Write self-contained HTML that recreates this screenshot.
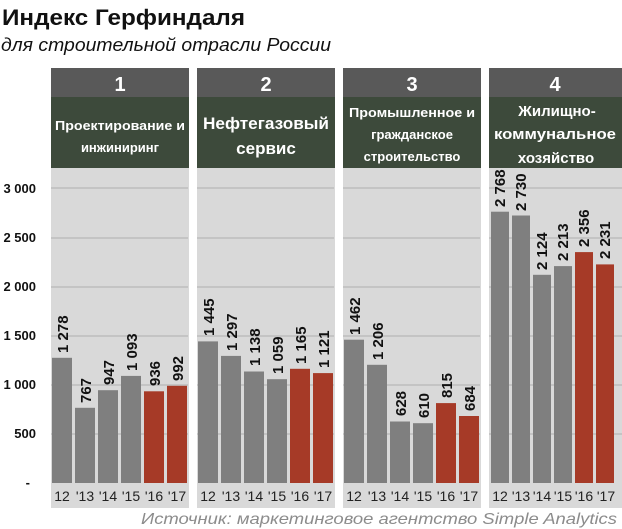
<!DOCTYPE html>
<html><head><meta charset="utf-8"><style>
html,body{margin:0;padding:0;background:#fff;}
svg{display:block;font-family:"Liberation Sans","DejaVu Sans",sans-serif;}
</style></head><body>
<svg width="622" height="529" viewBox="0 0 622 529" xmlns="http://www.w3.org/2000/svg">
<text x="2" y="25" font-size="22" font-weight="bold" fill="#111" textLength="243" lengthAdjust="spacingAndGlyphs">Индекс Герфиндаля</text>
<text x="1" y="51" font-size="18" font-style="italic" fill="#111" textLength="330" lengthAdjust="spacingAndGlyphs">для строительной отрасли России</text>

<g font-size="13" font-weight="bold" fill="#111" text-anchor="end">
<text x="36" y="193">3 000</text>
<text x="36" y="242">2 500</text>
<text x="36" y="291">2 000</text>
<text x="36" y="340">1 500</text>
<text x="36" y="389">1 000</text>
<text x="36" y="438">500</text>
<text x="30" y="487">-</text>
</g>

<rect x="51" y="68" width="138" height="29" fill="#595959"/>
<rect x="51" y="97" width="138" height="71" fill="#3d4a3b"/>
<rect x="51" y="168" width="138" height="340" fill="#d9d9d9"/>
<rect x="197" y="68" width="138" height="29" fill="#595959"/>
<rect x="197" y="97" width="138" height="71" fill="#3d4a3b"/>
<rect x="197" y="168" width="138" height="340" fill="#d9d9d9"/>
<rect x="343" y="68" width="138" height="29" fill="#595959"/>
<rect x="343" y="97" width="138" height="71" fill="#3d4a3b"/>
<rect x="343" y="168" width="138" height="340" fill="#d9d9d9"/>
<rect x="489" y="68" width="133" height="29" fill="#595959"/>
<rect x="489" y="97" width="133" height="71" fill="#3d4a3b"/>
<rect x="489" y="168" width="133" height="340" fill="#d9d9d9"/>

<g stroke="#bdbdbd" stroke-width="1.5">
<line x1="51" x2="188" y1="188" y2="188"/><line x1="51" x2="188" y1="238" y2="238"/><line x1="51" x2="188" y1="287" y2="287"/><line x1="51" x2="188" y1="336" y2="336"/><line x1="51" x2="188" y1="385" y2="385"/><line x1="51" x2="188" y1="434" y2="434"/>
<line x1="197" x2="334" y1="188" y2="188"/><line x1="197" x2="334" y1="238" y2="238"/><line x1="197" x2="334" y1="287" y2="287"/><line x1="197" x2="334" y1="336" y2="336"/><line x1="197" x2="334" y1="385" y2="385"/><line x1="197" x2="334" y1="434" y2="434"/>
<line x1="343" x2="480" y1="188" y2="188"/><line x1="343" x2="480" y1="238" y2="238"/><line x1="343" x2="480" y1="287" y2="287"/><line x1="343" x2="480" y1="336" y2="336"/><line x1="343" x2="480" y1="385" y2="385"/><line x1="343" x2="480" y1="434" y2="434"/>
<line x1="489" x2="622" y1="188" y2="188"/><line x1="489" x2="622" y1="238" y2="238"/><line x1="489" x2="622" y1="287" y2="287"/><line x1="489" x2="622" y1="336" y2="336"/><line x1="489" x2="622" y1="385" y2="385"/><line x1="489" x2="622" y1="434" y2="434"/>
</g>

<g fill="#fff" font-weight="bold" text-anchor="middle">
<text x="120" y="91" font-size="20">1</text>
<text x="266" y="91" font-size="20">2</text>
<text x="412" y="91" font-size="20">3</text>
<text x="555" y="91" font-size="20">4</text>
<text x="120" y="130" font-size="13" textLength="130" lengthAdjust="spacingAndGlyphs">Проектирование и</text>
<text x="120" y="152" font-size="13">инжиниринг</text>
<text x="266" y="129" font-size="17" textLength="126" lengthAdjust="spacingAndGlyphs">Нефтегазовый</text>
<text x="266" y="154" font-size="17">сервис</text>
<text x="412" y="117" font-size="13" textLength="126" lengthAdjust="spacingAndGlyphs">Промышленное и</text>
<text x="412" y="139" font-size="13">гражданское</text>
<text x="412" y="161" font-size="13">строительство</text>
<text x="557" y="116" font-size="15">Жилищно-</text>
<text x="555" y="139" font-size="15" textLength="122" lengthAdjust="spacingAndGlyphs">коммунальное</text>
<text x="556" y="163" font-size="15">хозяйство</text>
</g>

<g fill="#7f7f7f">
<rect x="52" y="357.8" width="20" height="125.2"/>
<rect x="75" y="407.8" width="20" height="75.2"/>
<rect x="98" y="390.2" width="20" height="92.8"/>
<rect x="121" y="375.9" width="20" height="107.1"/>
<rect x="198" y="341.4" width="20" height="141.6"/>
<rect x="221" y="355.9" width="20" height="127.1"/>
<rect x="244" y="371.5" width="20" height="111.5"/>
<rect x="267" y="379.2" width="20" height="103.8"/>
<rect x="344" y="339.7" width="20" height="143.3"/>
<rect x="367" y="364.8" width="20" height="118.2"/>
<rect x="390" y="421.5" width="20" height="61.5"/>
<rect x="413" y="423.2" width="20" height="59.8"/>
<rect x="491" y="211.7" width="18" height="271.3"/>
<rect x="512" y="215.5" width="18" height="267.5"/>
<rect x="533" y="274.8" width="18" height="208.2"/>
<rect x="554" y="266.1" width="18" height="216.9"/>
</g>
<g fill="#a63a27">
<rect x="144" y="391.3" width="20" height="91.7"/>
<rect x="167" y="385.8" width="20" height="97.2"/>
<rect x="290" y="368.8" width="20" height="114.2"/>
<rect x="313" y="373.1" width="20" height="109.9"/>
<rect x="436" y="403.1" width="20" height="79.9"/>
<rect x="459" y="416.0" width="20" height="67.0"/>
<rect x="575" y="252.1" width="18" height="230.9"/>
<rect x="596" y="264.4" width="18" height="218.6"/>
</g>

<g font-size="15" font-weight="bold" fill="#111">
<text transform="translate(68,353) rotate(-90)">1 278</text>
<text transform="translate(91,403) rotate(-90)">767</text>
<text transform="translate(114,385) rotate(-90)">947</text>
<text transform="translate(137,371) rotate(-90)">1 093</text>
<text transform="translate(160,386) rotate(-90)">936</text>
<text transform="translate(183,381) rotate(-90)">992</text>
<text transform="translate(214,336) rotate(-90)">1 445</text>
<text transform="translate(237,351) rotate(-90)">1 297</text>
<text transform="translate(260,366) rotate(-90)">1 138</text>
<text transform="translate(283,374) rotate(-90)">1 059</text>
<text transform="translate(306,364) rotate(-90)">1 165</text>
<text transform="translate(329,368) rotate(-90)">1 121</text>
<text transform="translate(360,335) rotate(-90)">1 462</text>
<text transform="translate(383,360) rotate(-90)">1 206</text>
<text transform="translate(406,416) rotate(-90)">628</text>
<text transform="translate(429,418) rotate(-90)">610</text>
<text transform="translate(452,398) rotate(-90)">815</text>
<text transform="translate(475,411) rotate(-90)">684</text>
<text transform="translate(505,207) rotate(-90)">2 768</text>
<text transform="translate(526,211) rotate(-90)">2 730</text>
<text transform="translate(547,270) rotate(-90)">2 124</text>
<text transform="translate(568,261) rotate(-90)">2 213</text>
<text transform="translate(589,247) rotate(-90)">2 356</text>
<text transform="translate(610,259) rotate(-90)">2 231</text>
</g>

<g font-size="14" fill="#222" text-anchor="middle">
<text x="62" y="501">12</text><text x="85" y="501">'13</text><text x="108" y="501">'14</text><text x="131" y="501">'15</text><text x="154" y="501">'16</text><text x="177" y="501">'17</text>
<text x="208" y="501">12</text><text x="231" y="501">'13</text><text x="254" y="501">'14</text><text x="277" y="501">'15</text><text x="300" y="501">'16</text><text x="323" y="501">'17</text>
<text x="354" y="501">12</text><text x="377" y="501">'13</text><text x="400" y="501">'14</text><text x="423" y="501">'15</text><text x="446" y="501">'16</text><text x="469" y="501">'17</text>
<text x="500" y="501">12</text><text x="521" y="501">'13</text><text x="542" y="501">'14</text><text x="563" y="501">'15</text><text x="584" y="501">'16</text><text x="606" y="501">'17</text>
</g>

<text x="617" y="524" font-size="16" font-style="italic" fill="#8c8c8c" text-anchor="end" textLength="476" lengthAdjust="spacingAndGlyphs">Источник: маркетинговое агентство Simple Analytics</text>
</svg>
</body></html>
